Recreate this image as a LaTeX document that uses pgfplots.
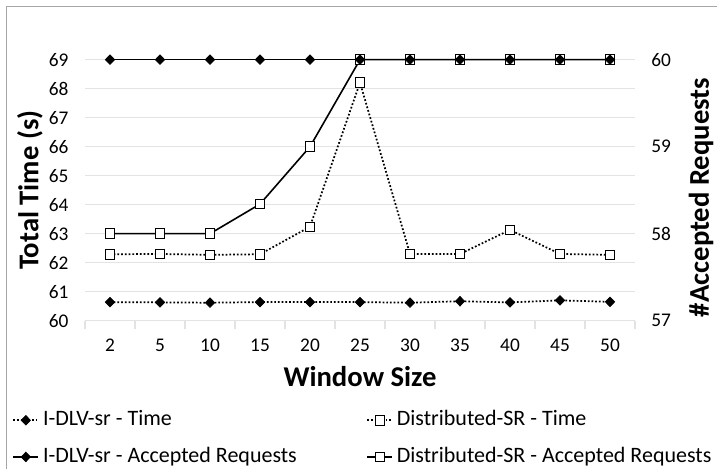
\documentclass[border=0pt]{standalone}
\usepackage{fontspec}
\setmainfont{Carlito}
\usepackage{pgfplots}
\pgfplotsset{compat=1.18}
\begin{document}
\begin{tikzpicture}
\useasboundingbox (-63.75pt,-111.2pt) rectangle (474pt,240.5pt);
\draw[gray!70, line width=0.75pt] (-58.5pt,-130pt) -- (-58.5pt,235.3pt) -- (490pt,235.3pt);
\pgfplotsset{
  common/.style={at={(0,0)}, anchor=south west, scale only axis,
    width=412.5pt, height=195.75pt, xmin=-0.5, xmax=10.5, clip=false,
    /pgf/number format/assume math mode=true,
    ticklabel style={font=\fontsize{14.5}{17}\selectfont},
    label style={font=\bfseries\fontsize{21.5}{25}\selectfont},
    major tick length=0pt, axis line style={draw=none}},
  idlvtime/.style={black, line width=1.3pt, dash pattern=on 1.3pt off 1.5pt,
    mark=diamond*, mark size=3.6pt, mark options={solid, fill=black, line width=0.5pt, xscale=1.3}},
  disttime/.style={black, line width=1.3pt, dash pattern=on 1.3pt off 1.5pt,
    mark=square*, mark size=3.6pt, mark options={solid, fill=white, line width=0.6pt}},
  idlvacc/.style={black, line width=1.2pt, solid,
    mark=diamond*, mark size=3.6pt, mark options={solid, fill=black, line width=0.5pt, xscale=1.3}},
  distacc/.style={black, line width=1.2pt, solid,
    mark=square*, mark size=3.6pt, mark options={solid, fill=white, line width=0.6pt}},
}
\begin{axis}[common,
  ymin=60, ymax=69, ytick={60,...,69}, ymajorgrids,
  grid style={gray!22, line width=0.8pt},
  xtick={0,...,10}, xticklabels={2,5,10,15,20,25,30,35,40,45,50},
  minor xtick={-0.5,0.5,...,10.5}, minor tick length=6pt, tick align=outside,
  minor tick style={gray!22, line width=0.8pt},
  xtick pos=bottom, ytick pos=left,
  xticklabel style={yshift=-10pt}, yticklabel style={xshift=-8.9pt},
  xlabel={Window Size}, xlabel style={at={(axis description cs:0.5,-0.215)}, anchor=center},
  ylabel={Total Time (s)}, ylabel style={at={(axis description cs:-0.1,0.5)}, anchor=center},
]
\addplot[disttime] coordinates {(0,62.29)(1,62.30)(2,62.27)(3,62.29)(4,63.24)(5,68.21)(6,62.30)(7,62.30)(8,63.13)(9,62.30)(10,62.27)};
\addplot[idlvtime] coordinates {(0,60.64)(1,60.63)(2,60.62)(3,60.64)(4,60.64)(5,60.64)(6,60.62)(7,60.67)(8,60.63)(9,60.70)(10,60.65)};
\end{axis}
\begin{axis}[common,
  ymin=57, ymax=60, ytick={57,58,59,60},
  xtick=\empty, ytick pos=right, yticklabel pos=right,
  yticklabel style={xshift=8.7pt},
  ylabel={\#Accepted Requests},
  ylabel style={at={(axis description cs:1.12,0.472)}, anchor=center, rotate=0},
  legend columns=2, legend cell align=left,
  legend image code/.code={\draw[mark repeat=2,mark phase=2,#1] plot coordinates {(0pt,0pt)(9.5pt,0pt)(19pt,0pt)};},
  legend style={draw=none, fill=none, inner sep=0pt,
    at={(axis description cs:-0.1327,-0.3295)}, anchor=north west,
    font=\fontsize{16.5}{19}\selectfont,
    nodes={inner xsep=0pt, inner ysep=3pt, text height=11pt, text depth=3pt},
    row sep=7.5pt,
    /tikz/column 1/.style={column sep=2.75pt},
    /tikz/column 2/.style={column sep=52pt},
    /tikz/column 3/.style={column sep=2.75pt}},
]
\addlegendimage{idlvtime}
\addlegendentry{I-DLV-sr - Time}
\addlegendimage{disttime}
\addlegendentry{Distributed-SR - Time}
\addlegendimage{idlvacc}
\addlegendentry{I-DLV-sr - Accepted Requests}
\addlegendimage{distacc}
\addlegendentry{Distributed-SR - Accepted Requests}
\addplot[distacc, forget plot] coordinates {(0,58)(1,58)(2,58)(3,58.34)(4,59)(5,60)(6,60)(7,60)(8,60)(9,60)(10,60)};
\addplot[idlvacc, forget plot] coordinates {(0,60)(1,60)(2,60)(3,60)(4,60)(5,60)(6,60)(7,60)(8,60)(9,60)(10,60)};
\end{axis}
\end{tikzpicture}
\end{document}
